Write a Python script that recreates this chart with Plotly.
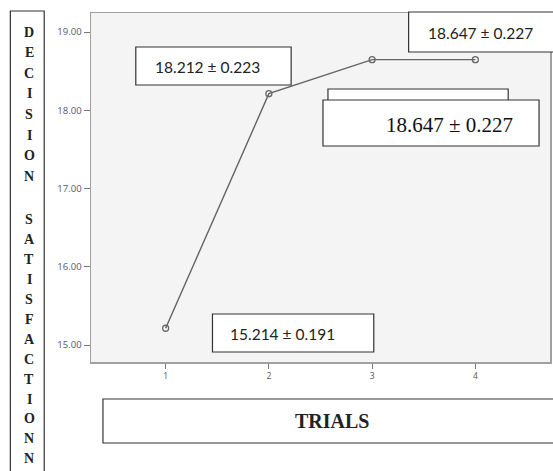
import plotly.graph_objects as go

trials = [1, 2, 3, 4]
means = [15.214, 18.212, 18.647, 18.647]
sems = [0.191, 0.223, 0.227, 0.227]
y_ticks = [15, 16, 17, 18, 19]
y_ticklabels = ["15.00", "16.00", "17.00", "18.00", "19.00"]
x_title = "TRIALS"
y_title = "DECISION SATISFACTIONN"

W, H = 553, 471
L, R, T, B = 91, 552, 13, 362


def px(x):
    return (x - L) / (R - L)


def py(y):
    return (B - y) / (B - T)


def lab(i):
    return f"{means[i]:.3f} \u00b1 {sems[i]:.3f}"


fig = go.Figure()
fig.add_trace(go.Scatter(
    x=trials, y=means, mode="lines+markers",
    line=dict(color="#646464", width=1.4),
    marker=dict(symbol="circle-open", size=6, color="#6a6a6a", line=dict(width=1.3)),
    hoverinfo="skip", showlegend=False,
))

shapes = []
annotations = []


def box(x0, y0, x1, y1, lw=1.2):
    shapes.append(dict(type="rect", xref="paper", yref="paper",
                       x0=px(x0), x1=px(x1), y0=py(y1), y1=py(y0),
                       fillcolor="white", line=dict(color="#333333", width=lw),
                       layer="above"))


def text(t, xc, yc, font, size, bold=False, xanchor="center", color="#222222"):
    annotations.append(dict(text=f"<b>{t}</b>" if bold else t, xref="paper", yref="paper",
                            x=px(xc), y=py(yc), xanchor=xanchor, yanchor="middle",
                            showarrow=False, font=dict(family=font, size=size, color=color)))


calibri = "Lato, Carlito, Calibri, sans-serif"
times = "Liberation Serif, Times New Roman, serif"

# top-right box (trial 4)
box(410, 12, 560, 52)
text(lab(3), 427, 33, calibri, 15.5, xanchor="left")
# trial 2 box
box(136, 47, 292, 85)
text(lab(1), 153, 67, calibri, 15.5, xanchor="left")
# empty box + Times box (trial 3)
box(329, 89, 510, 104)
box(324, 100, 541, 146)
text(lab(2), 385, 125, times, 21, xanchor="left", color="#111111")
# trial 1 box
box(213, 314, 375, 352)
text(lab(0), 229, 334, calibri, 15.5, xanchor="left")
# x title box
box(103, 399, 570, 443)
text(x_title, 333, 421, times, 20, bold=True, color="#222222")
# y title box
box(10, 11, 44, 490)
for i, ch in enumerate(y_title):
    if ch == " ":
        continue
    yc = 32 + i * 20.6 if i < 9 else 220 + (i - 9) * 19.9
    text(ch, 29, yc, times, 14, bold=True, color="#222222")

fig.update_layout(
    width=W, height=H,
    margin=dict(l=L, r=W - R, t=T, b=H - B),
    paper_bgcolor="white", plot_bgcolor="#f4f4f4",
    shapes=shapes, annotations=annotations,
    xaxis=dict(range=[0.277, 4.723], tickvals=trials, ticktext=[str(t) for t in trials],
               showgrid=False, zeroline=False, showline=True, mirror=True,
               linecolor="#a0a0a0", linewidth=1.5, ticks="outside", ticklen=5,
               tickcolor="#777777", tickfont=dict(family="Open Sans", size=8.5, color="#555555")),
    yaxis=dict(range=[14.783, 19.243], tickvals=y_ticks, ticktext=y_ticklabels,
               showgrid=False, zeroline=False, showline=True, mirror=True,
               linecolor="#a0a0a0", linewidth=1.5, ticks="outside", ticklen=6,
               tickcolor="#777777", tickfont=dict(family="Open Sans", size=9.5, color="#555577")),
)

fig.write_html("out.html", config={"displayModeBar": False, "staticPlot": True},
               post_script="document.body.style.margin='0';document.body.style.overflow='hidden';")
